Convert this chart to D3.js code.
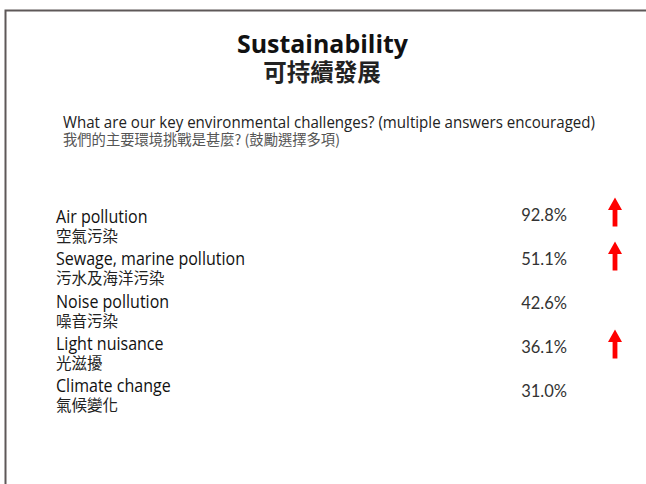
<!DOCTYPE html>
<html><head><meta charset="utf-8">
<script src="https://cdn.jsdelivr.net/npm/d3@7"></script>
<style>html,body{margin:0;padding:0;background:#fff;overflow:hidden}</style>
</head><body>
<script>
const titleEn = "Sustainability";
const titleZh = "可持續發展";
const questionEn = "What are our key environmental challenges? (multiple answers encouraged)";
const questionZh = "我們的主要環境挑戰是甚麼? (鼓勵選擇多項)";
const categoriesEn = ["Air pollution", "Sewage, marine pollution", "Noise pollution", "Light nuisance", "Climate change"];
const categoriesZh = ["空氣污染", "污水及海洋污染", "噪音污染", "光滋擾", "氣候變化"];
const values = [92.8, 51.1, 42.6, 36.1, 31.0];
const increased = [true, true, false, true, false];

const W = 646, H = 484;
const svg = d3.select("body").append("svg").attr("width", W).attr("height", H);

// slide frame
svg.append("path").attr("d", d3.line()([[5.5, H], [5.5, 10.5], [W, 10.5]]))
  .attr("fill", "none").attr("stroke", "#5e5858").attr("stroke-width", 2);

const latin = "'Open Sans', 'Noto Sans', sans-serif";
const cjk = "'Noto Sans CJK TC', 'Noto Sans CJK SC', sans-serif";

svg.append("text").attr("x", 322.5).attr("y", 53).attr("text-anchor", "middle")
  .attr("font-family", latin).attr("font-weight", 700).attr("font-size", 25)
  .attr("textLength", 171).attr("lengthAdjust", "spacingAndGlyphs")
  .attr("fill", "#111").text(titleEn);
svg.append("text").attr("x", 322).attr("y", 81).attr("text-anchor", "middle")
  .attr("font-family", cjk).attr("font-weight", 700).attr("font-size", 23.5)
  .attr("fill", "#222").text(titleZh);

svg.append("text").attr("x", 63).attr("y", 128)
  .attr("font-family", latin).attr("font-size", 17)
  .attr("textLength", 532).attr("lengthAdjust", "spacingAndGlyphs")
  .attr("fill", "#222").text(questionEn);
svg.append("text").attr("x", 63).attr("y", 145)
  .attr("font-family", cjk).attr("font-size", 14.3)
  .attr("fill", "#555").text(questionZh);

const idx = d3.range(categoriesEn.length);
const yLabel = d3.scalePoint().domain(idx).range([223, 392]);
const yValue = d3.scalePoint().domain(idx).range([221, 397]);
const fmt = d3.format(".1f");

const g = svg.append("g");

g.selectAll("text.en").data(idx).join("text").attr("class", "en")
  .attr("x", 56).attr("y", i => yLabel(i))
  .attr("font-family", latin).attr("font-size", 18).attr("fill", "#111")
  .text(i => categoriesEn[i])
  .each(function () {
    const L = this.getComputedTextLength();
    d3.select(this).attr("textLength", L * 0.89).attr("lengthAdjust", "spacingAndGlyphs");
  });
g.selectAll("text.zh").data(idx).join("text").attr("class", "zh")
  .attr("x", 56).attr("y", i => yLabel(i) + 19)
  .attr("font-family", cjk).attr("font-size", 15.5).attr("fill", "#222")
  .text(i => categoriesZh[i]);
g.selectAll("text.val").data(idx).join("text").attr("class", "val")
  .attr("x", 567).attr("y", i => yValue(i)).attr("text-anchor", "end")
  .attr("font-family", "Lato, 'Open Sans', sans-serif").attr("font-weight", 400)
  .attr("font-size", 16.5).attr("fill", "#333")
  .text(i => fmt(values[i]) + "%");

// red up arrows
const arrow = d3.path();
arrow.moveTo(0, -14.5); arrow.lineTo(7, -2); arrow.lineTo(2.4, -2); arrow.lineTo(2.4, 14.5);
arrow.lineTo(-2.4, 14.5); arrow.lineTo(-2.4, -2); arrow.lineTo(-7, -2); arrow.closePath();
g.selectAll("path.arrow").data(idx.filter(i => increased[i])).join("path").attr("class", "arrow")
  .attr("d", arrow.toString())
  .attr("transform", i => `translate(615,${yValue(i) - 9})`)
  .attr("fill", "#ff0000");
</script>
</body></html>
